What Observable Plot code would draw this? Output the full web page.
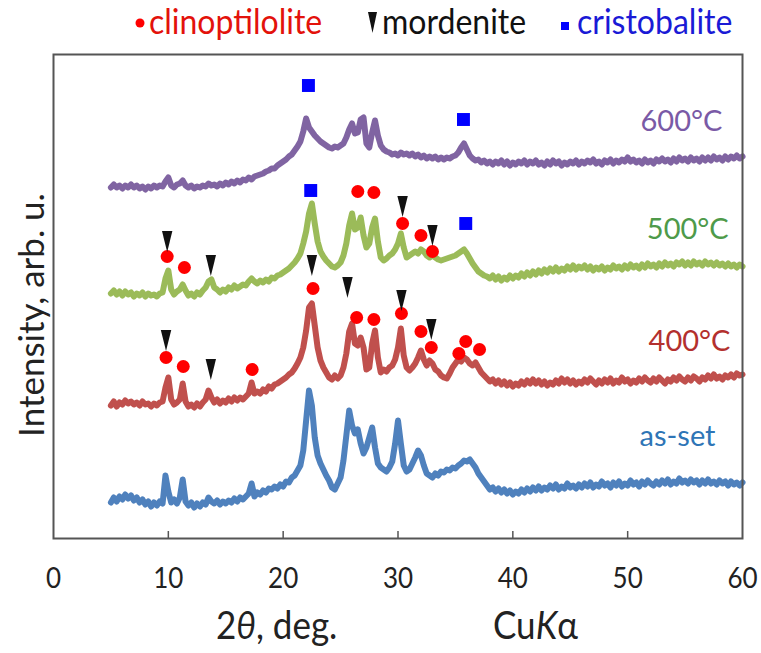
<!DOCTYPE html>
<html>
<head>
<meta charset="utf-8">
<script src="https://cdn.jsdelivr.net/npm/d3@7"></script>
<script src="https://cdn.jsdelivr.net/npm/@observablehq/plot@0.6"></script>
<style>
  html, body { margin: 0; padding: 0; background: #fff; }
  #wrap { position: relative; width: 761px; height: 653px; font-family: Lato, "Noto Sans", "DejaVu Sans", sans-serif; }
  #wrap svg { position: absolute; left: 0; top: 0; }
  .lg { position: absolute; top: 2px; font-size: 32px; line-height: 38px; white-space: nowrap; transform-origin: 0 50%; transform: scaleY(1.1); }
  .ttl { position: absolute; font-size: 35px; white-space: nowrap; color: #222; transform-origin: 0 50%; transform: scaleY(1.1); }
</style>
</head>
<body>
<div id="wrap"></div>
<script>
// 2θ sampling (deg)
const angles = [
  5,5.25,5.5,5.75,6,6.25,6.5,6.75,7,7.25,7.5,7.75,8,8.25,8.5,8.75,9,9.25,9.5,9.75,
  10,10.25,10.5,10.75,11,11.25,11.5,11.75,12,12.25,12.5,12.75,13,13.25,13.5,13.75,14,14.25,14.5,14.75,
  15,15.25,15.5,15.75,16,16.25,16.5,16.75,17,17.25,17.5,17.75,18,18.25,18.5,18.75,19,19.25,19.5,19.75,
  20,20.25,20.5,20.75,21,21.25,21.5,21.75,22,22.25,22.5,22.75,23,23.25,23.5,23.75,24,24.25,24.5,24.75,
  25,25.25,25.5,25.75,26,26.25,26.5,26.75,27,27.25,27.5,27.75,28,28.25,28.5,28.75,29,29.25,29.5,29.75,
  30,30.25,30.5,30.75,31,31.25,31.5,31.75,32,32.25,32.5,32.75,33,33.25,33.5,33.75,34,34.25,34.5,34.75,
  35,35.25,35.5,35.75,36,36.25,36.5,36.75,37,37.25,37.5,37.75,38,38.25,38.5,38.75,39,39.25,39.5,39.75,
  40,40.25,40.5,40.75,41,41.25,41.5,41.75,42,42.25,42.5,42.75,43,43.25,43.5,43.75,44,44.25,44.5,44.75,
  45,45.25,45.5,45.75,46,46.25,46.5,46.75,47,47.25,47.5,47.75,48,48.25,48.5,48.75,49,49.25,49.5,49.75,
  50,50.25,50.5,50.75,51,51.25,51.5,51.75,52,52.25,52.5,52.75,53,53.25,53.5,53.75,54,54.25,54.5,54.75,
  55,55.25,55.5,55.75,56,56.25,56.5,56.75,57,57.25,57.5,57.75,58,58.25,58.5,58.75,59,59.25,59.5,59.75,
  60
];

// intensities (arb. u., above each pattern's own baseline)
const asSet = [
  3,8,4,9,6,11,7,10,5,8,3,6,1,4,-1,3,0,4,2,30,
  14,3,6,2,8,26,4,0,3,-2,2,-1,3,1,8,4,2,5,1,4,
  2,5,3,7,4,8,6,9,12,22,9,13,11,15,13,17,16,19,17,21,
  19,24,23,28,30,35,40,55,85,115,100,68,50,42,36,30,25,18,16,22,
  28,45,70,95,80,72,76,62,52,58,68,78,58,42,38,36,34,38,44,62,
  85,62,40,34,36,42,48,55,50,40,32,30,28,32,30,34,33,36,35,38,
  37,40,42,45,44,46,42,38,32,28,24,20,16,18,14,17,13,16,12,15,
  11,14,12,16,13,17,14,18,15,19,15,18,16,20,17,21,16,19,17,22,
  18,20,17,21,18,22,19,23,18,21,19,24,20,22,18,23,20,24,19,22,
  20,25,21,23,19,24,21,25,22,20,24,21,25,22,26,21,24,22,27,23,
  25,22,26,23,25,21,25,22,26,22,24,21,25,22,24,20,24,21,23,20,
  23
];
const t400 = [
  0,4,-1,3,1,5,2,4,1,3,0,4,1,2,-1,2,0,3,4,18,
  28,6,1,3,6,22,4,-1,1,-2,2,-1,3,6,15,8,3,6,2,5,
  3,7,4,8,5,8,6,9,12,23,12,14,12,16,14,19,17,21,22,24,
  26,28,31,33,37,42,48,58,75,98,102,80,58,45,38,33,28,26,30,27,
  30,38,52,74,82,62,60,68,58,36,38,62,75,48,33,36,34,38,40,46,
  58,77,50,38,35,38,42,48,55,46,40,45,42,36,34,30,28,27,32,38,
  42,46,44,48,46,42,40,43,38,33,30,27,24,26,22,25,21,24,20,23,
  19,22,20,24,21,25,22,26,22,25,21,24,20,23,21,25,22,27,23,26,
  22,25,21,24,22,26,23,27,24,21,25,22,26,23,27,22,25,23,28,24,
  26,22,25,23,27,24,28,25,23,27,24,28,25,22,26,24,28,25,29,26,
  24,28,25,29,27,24,28,26,30,27,31,27,29,26,30,28,31,28,32,30,
  31
];
const t500 = [
  0,3,-1,2,-2,2,-1,1,-3,0,-2,1,-3,0,-2,-1,-3,0,1,15,
  23,4,-1,2,4,9,3,-2,0,-3,1,-1,3,6,12,14,6,4,1,4,
  2,6,4,8,5,7,9,8,12,15,12,10,13,11,14,12,16,15,18,19,
  21,23,25,28,31,35,40,50,62,80,90,70,52,42,37,33,30,27,26,28,
  31,38,50,68,80,64,66,76,58,46,50,66,75,52,36,33,35,38,40,44,
  50,60,46,36,38,40,42,40,44,42,38,36,38,36,34,33,34,35,36,37,
  38,40,42,44,40,35,30,26,22,20,18,17,15,18,14,17,13,16,14,18,
  15,18,16,20,17,21,18,22,19,23,20,24,21,25,22,26,22,25,23,27,
  24,28,24,27,25,28,24,27,23,26,24,27,23,26,24,28,25,27,24,28,
  25,29,26,28,25,29,26,30,27,29,26,30,27,31,28,30,27,31,29,32,
  28,31,28,32,29,31,28,32,29,31,28,31,28,30,27,30,27,29,26,29,
  27
];
const t600 = [
  0,3,0,2,-1,2,0,3,0,2,-1,1,-2,1,-1,2,0,2,1,6,
  10,2,0,3,4,7,2,0,2,-1,1,0,2,1,4,2,3,1,4,2,
  5,3,6,4,7,5,8,7,10,8,11,12,13,14,16,17,19,19,22,24,
  26,28,31,33,37,41,46,56,69,60,56,52,49,46,44,42,40,39,41,40,
  42,44,50,58,64,54,55,68,70,44,40,55,67,52,42,38,36,35,33,34,
  32,35,33,34,32,34,31,33,30,32,29,31,29,31,28,30,28,30,29,31,
  32,35,40,44,38,32,29,27,28,25,27,24,26,23,26,24,27,23,26,22,
  25,23,26,24,27,23,26,24,27,23,25,22,26,23,27,24,26,22,25,23,
  26,24,27,23,26,24,27,25,28,24,26,23,27,25,28,24,27,25,28,26,
  30,26,28,25,27,24,28,25,27,24,28,26,29,26,28,25,29,26,30,27,
  29,26,30,27,29,26,30,27,30,27,31,28,30,27,31,28,31,29,32,29,
  31
];

// pattern names, colours and vertical stacking offsets (arb. u.)
const seriesNames = ["as-set", "400°C", "500°C", "600°C"];
const seriesValues = [asSet, t400, t500, t600];
const stackOffsets = [33, 133, 245, 351];
const lineColors = ["#4f81bd", "#c0504d", "#9bbb59", "#8064a2"];
const labelColors = ["#2e75b6", "#b3302e", "#4e9a4a", "#7a5aa6"];
const labelAt = [[57.65, 102], [58.95, 197], [58.8, 309], [58.25, 417]];

// phase markers: [2θ, height]
const clinoptilolite = [
  [9.9, 282], [11.4, 271], [26.5, 347], [27.9, 346], [30.4, 315], [32.0, 303], [33.0, 287],
  [9.8, 181], [11.3, 172], [17.3, 169], [22.6, 250], [26.4, 221], [27.9, 219], [30.3, 225],
  [32.0, 207], [32.9, 191], [35.3, 185], [35.9, 197], [37.1, 189]
];
const mordenite = [
  [9.9, 297], [13.7, 273], [30.4, 332], [33.0, 303],
  [9.8, 198], [13.7, 169], [22.5, 273], [25.6, 251], [30.3, 238], [32.9, 209]
];
const cristobalite = [
  [22.2, 453], [35.7, 419], [22.4, 348], [35.9, 315]
];
const xTicks = [0, 10, 20, 30, 40, 50, 60];

const rows = seriesNames.flatMap((name, k) =>
  angles.map((a, i) => ({name, angle: a, y: stackOffsets[k] + seriesValues[k][i]})));
const labels = seriesNames.map((name, k) => ({name, x: labelAt[k][0], y: labelAt[k][1], color: labelColors[k]}));

const wedge = {
  draw(ctx, size) {
    const r = Math.sqrt(size / Math.PI);
    const w = r * 0.8, h = r * 1.6;
    ctx.moveTo(-w, -h); ctx.lineTo(w, -h); ctx.lineTo(0, h); ctx.closePath();
  }
};

const chart = Plot.plot({
  width: 761,
  height: 653,
  marginLeft: 53,
  marginRight: 19,
  marginTop: 54,
  marginBottom: 115,
  style: {fontFamily: 'Lato, "Noto Sans", sans-serif', background: "transparent", overflow: "visible"},
  x: {domain: [0, 60]},
  y: {domain: [0, 484], axis: null},
  marks: [
    ...seriesNames.map((name, k) =>
      Plot.line(rows.filter(d => d.name === name), {x: "angle", y: "y", stroke: lineColors[k], strokeWidth: 6, strokeLinejoin: "round"})),
    Plot.dot(clinoptilolite, {x: d => d[0], y: d => d[1], r: 6.5, fill: "#ff0000"}),
    Plot.dot(mordenite, {x: d => d[0], y: d => d[1], r: 6.5, symbol: wedge, fill: "#111"}),
    Plot.dot(cristobalite, {x: d => d[0], y: d => d[1], r: 7.3, symbol: "square", fill: "#0000ff"}),
    Plot.text(labels, {x: "x", y: "y", text: "name", fill: "color", textAnchor: "end", lineAnchor: "middle", fontSize: 29}),
    Plot.axisX({ticks: xTicks.slice(1, -1), tickSize: 7, dy: -7, tickFormat: () => "", stroke: "#555", strokeWidth: 1.5}),
    Plot.axisX({ticks: xTicks, tickSize: 0, tickPadding: 29, fontSize: 26, fill: "#222"}),
    Plot.frame({stroke: "#555", strokeWidth: 2})
  ]
});

const wrap = document.getElementById("wrap");
wrap.appendChild(chart);

// slightly taller glyphs for the tick labels, as in the reference
d3.select(chart).selectAll('g[aria-label="x-axis tick label"] text').each(function () {
  const t = this.getAttribute("transform") || "";
  this.setAttribute("transform", t + " scale(1,1.12)");
});

wrap.insertAdjacentHTML("beforeend", `
  <svg width="761" height="50" style="position:absolute;left:0;top:0">
    <circle cx="140" cy="23" r="4.5" fill="#ff0000"/>
    <path d="M368,12 L377,12 L372.5,33 Z" fill="#111"/>
    <rect x="561" y="22" width="8" height="8" fill="#0000ff"/>
  </svg>
  <div class="lg" style="left:149px;color:#e3120b">clinoptilolite</div>
  <div class="lg" style="left:382px;color:#111">mordenite</div>
  <div class="lg" style="left:577px;color:#1a1ad6">cristobalite</div>
  <div class="ttl" style="left:216px;top:603px">2<i>θ</i>, deg.</div>
  <div class="ttl" style="left:493px;top:603px">Cu<i>K</i>α</div>
  <div class="ttl" style="left:30px;top:315px;transform-origin:50% 50%;transform:translate(-50%,-50%) rotate(-90deg)">Intensity, arb. u.</div>
`);
</script>
</body>
</html>
